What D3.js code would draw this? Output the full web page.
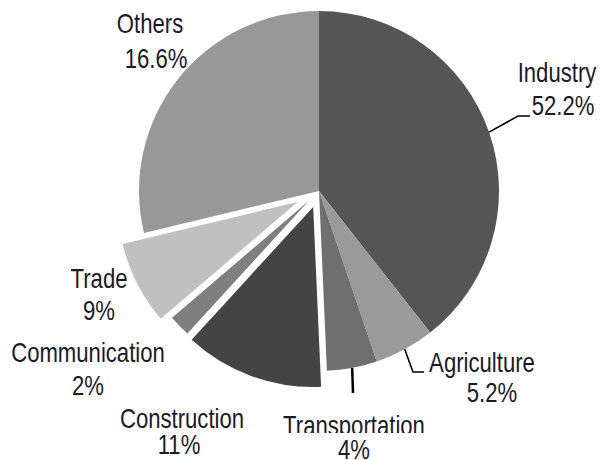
<!DOCTYPE html>
<html>
<head>
<meta charset="utf-8">
<script src="https://cdn.jsdelivr.net/npm/d3@7"></script>
<style>
  body { margin: 0; background: #fff; }
</style>
</head>
<body>
<div id="chart-area"></div>
<script>
const WIDTH = 600
const HEIGHT = 460
const CENTER = { X: 319, Y: 191 }
const RADIUS = 180

// sectors in drawing order, clockwise from 12 o'clock
const sectors = ["Industry", "Agriculture", "Transportation", "Construction", "Communication", "Trade", "Others"]
// slice sizes as drawn in the picture (share of the circle, %)
const shares = [39.4, 5.4, 4.5, 12.5, 1.95, 7.5, 28.75]
// percentages printed in the labels
const pctLabels = ["52.2%", "5.2%", "4%", "11%", "2%", "9%", "16.6%"]

// styling
const shades = ["#555555", "#9a9a9a", "#6f6f6f", "#444444", "#7f7f7f", "#c0c0c0", "#989898"]
const explode = [0, 0, 0, 17, 14, 24, 0]
// label placement: [x name, y name, x pct, y pct]
const labelPos = [
  [557, 82, 563, 115],
  [482, 372, 492, 402],
  [354, 435, 354, 459],
  [182, 428, 179, 454],
  [88, 362, 88, 395],
  [99, 288, 99, 320],
  [150, 33, 156, 68]
]
// leader line elbows after the arc point (only for some labels)
const leaders = [
  [[518, 116], [530, 116]],
  [[413, 372], [424, 372]],
  [[353, 393]],
  null, null, null, null
]

const svg = d3.select("#chart-area").append("svg")
  .attr("width", WIDTH)
  .attr("height", HEIGHT)

// the reference cuts the bottom of the "Transportation" word
const defs = svg.append("defs")
defs.append("clipPath").attr("id", "clip-bottom")
  .append("rect")
  .attr("x", 0).attr("y", 0)
  .attr("width", WIDTH).attr("height", 433)

const g = svg.append("g")
  .attr("transform", `translate(${CENTER.X}, ${CENTER.Y})`)

const pie = d3.pie()
  .sort(null)
  .value(d => d.share)

const data = sectors.map((s, i) => ({ name: s, share: shares[i], pct: pctLabels[i], i: i }))
const arcs = pie(data)

const arc = d3.arc()
  .innerRadius(0)
  .outerRadius(RADIUS)

// slices (some pulled out along their mid angle)
g.selectAll("path.slice")
  .data(arcs)
  .enter().append("path")
    .attr("class", "slice")
    .attr("fill", d => shades[d.data.i])
    .attr("transform", d => {
      const mid = (d.startAngle + d.endAngle) / 2
      const off = explode[d.data.i]
      return `translate(${off * Math.sin(mid)}, ${-off * Math.cos(mid)})`
    })
    .attr("d", arc)

// leader lines from the middle of the arc
arcs.forEach(d => {
  const pts = leaders[d.data.i]
  if (!pts) return
  const mid = (d.startAngle + d.endAngle) / 2
  const start = [CENTER.X + RADIUS * Math.sin(mid), CENTER.Y - RADIUS * Math.cos(mid)]
  svg.append("path")
    .attr("d", d3.line()([start].concat(pts)))
    .attr("fill", "none")
    .attr("stroke", "#000")
    .attr("stroke-width", d.data.i === 2 ? 2.5 : 1.6)
})

// labels (narrow font look via horizontal squeeze)
function addLine(x, y, str, clip) {
  const t = svg.append("text")
    .attr("transform", `translate(${x}, ${y}) scale(0.82, 1)`)
    .attr("text-anchor", "middle")
    .attr("font-family", "'Liberation Sans', Arial, sans-serif")
    .attr("font-size", "27px")
    .attr("fill", "#1a1a2a")
    .text(str)
  if (clip) {
    svg.append("g").attr("clip-path", "url(#clip-bottom)").node().appendChild(t.node())
  }
}

arcs.forEach(d => {
  const p = labelPos[d.data.i]
  addLine(p[0], p[1], d.data.name, d.data.name === "Transportation")
  addLine(p[2], p[3], d.data.pct, false)
})
</script>
</body>
</html>
